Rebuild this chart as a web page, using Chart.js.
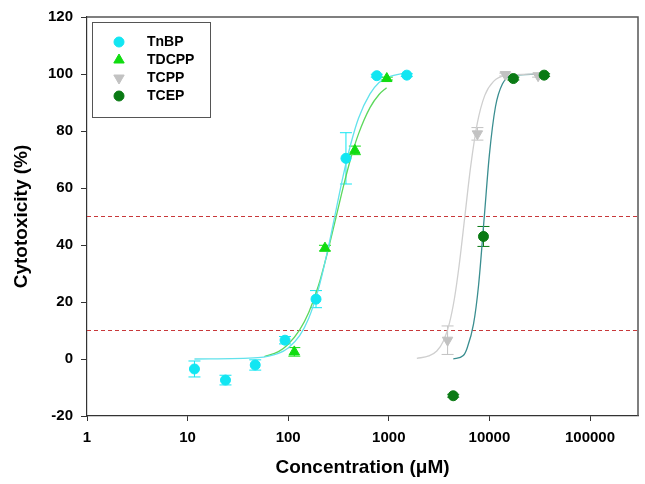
<!DOCTYPE html>
<html>
<head>
<meta charset="utf-8">
<script src="https://cdn.jsdelivr.net/npm/chart.js@4.4.1/dist/chart.umd.min.js"></script>
<style>
  body { margin: 0; background: #fff; }
  #wrap { width: 645px; height: 484px; }
</style>
</head>
<body>
<div id="wrap"><canvas id="myChart" width="645" height="484"></canvas></div>
<script>
// measured points (concentration uM, cytotoxicity %, error)
var tnbpX = [11.7, 23.8, 47, 93, 189, 375, 760, 1510];
var tnbpY = [-3.5, -7.4, -2.1, 6.6, 21, 70.4, 99.4, 99.6];
var tnbpErr = [2.8, 1.7, 1.8, 1.3, 3, 9, 0.5, 0.5];

var tdcppX = [115, 232, 460, 955];
var tdcppY = [2.5, 38.9, 73.2, 98.4];
var tdcppErr = [1.5, 1, 1.5, 0.5];

var tcppX = [3840, 7600, 14400, 30500];
var tcppY = [6.6, 79, 99.8, 99.4];
var tcppErr = [5, 2.2, 0.5, 0.5];

var tcepX = [4370, 8730, 17300, 35000];
var tcepY = [-12.9, 43, 98.4, 99.6];
var tcepErr = [0.5, 3.5, 0.5, 0.5];

// fitted curves
var tnbpFitX = [11.7, 50, 80, 100, 130, 160, 200, 250, 300, 350, 420, 500, 650, 800, 1000, 1510];
var tnbpFitY = [0, 0.5, 2, 3.9, 8.2, 14.3, 24.6, 39, 52.5, 63.9, 75.6, 84.5, 93, 97, 99, 100.5];

var tdcppFitX = [58, 80, 100, 130, 160, 200, 250, 300, 350, 420, 500, 650, 800, 950];
var tdcppFitY = [0.8, 2.6, 5.2, 10.2, 16.3, 25.8, 38.4, 50, 59.9, 70.6, 79, 88.2, 92.8, 95.2];

var tcppFitX = [1900, 2500, 3000, 3500, 4000, 4500, 5000, 5700, 6500, 7600, 9000, 11000, 14400, 30500];
var tcppFitY = [0.2, 1.1, 2.8, 6.4, 12.5, 21.4, 32.8, 50, 67.3, 82.9, 92.5, 97.4, 99.4, 100];

var tcepFitX = [4370, 5500, 6000, 6950, 7800, 8900, 10000, 11500, 13500, 17300, 35000];
var tcepFitY = [0, 1.2, 3.8, 12.2, 25.8, 50, 71.7, 88.6, 96.6, 99.5, 100];

var refLines = [50, 10];
var xTicks = [1, 10, 100, 1000, 10000, 100000];
var xTickLabels = ['1', '10', '100', '1000', '10000', '100000'];
var xMin = 1, xMax = 300000;
var yMin = -20, yMax = 120, yStep = 20;

var legendNames = ['TnBP', 'TDCPP', 'TCPP', 'TCEP'];

function pts(xs, ys) {
  var out = [];
  for (var i = 0; i < xs.length; i++) out.push({x: xs[i], y: ys[i]});
  return out;
}

var markerStyles = [
  {color: '#12E6F2', style: 'circle', radius: 5, rotation: 0},
  {color: '#10DC10', style: 'triangle', radius: 6, rotation: 0},
  {color: '#C2C2C2', style: 'triangle', radius: 6, rotation: 180},
  {color: '#0A7A14', style: 'circle', radius: 5, rotation: 0}
];

function markerSet(name, xs, ys, errs, m, ord) {
  return {
    label: name, data: pts(xs, ys), errors: errs,
    showLine: false, order: ord,
    pointStyle: m.style, pointRotation: m.rotation, pointRadius: m.radius,
    pointBackgroundColor: m.color, pointBorderColor: m.color, pointBorderWidth: 1,
    borderColor: m.color, backgroundColor: m.color
  };
}

function fitSet(xs, ys, color, ord) {
  return {
    label: '_fit', data: pts(xs, ys), order: ord,
    borderColor: color, borderWidth: 1.3, pointRadius: 0,
    cubicInterpolationMode: 'monotone', fill: false
  };
}

var datasets = [
  markerSet('TnBP', tnbpX, tnbpY, tnbpErr, markerStyles[0], 4),
  markerSet('TDCPP', tdcppX, tdcppY, tdcppErr, markerStyles[1], 3),
  markerSet('TCPP', tcppX, tcppY, tcppErr, markerStyles[2], 2),
  markerSet('TCEP', tcepX, tcepY, tcepErr, markerStyles[3], 1),
  fitSet(tnbpFitX, tnbpFitY, '#62E2EC', 10),
  fitSet(tdcppFitX, tdcppFitY, '#5CD85C', 10),
  fitSet(tcppFitX, tcppFitY, '#CFCFCF', 10),
  fitSet(tcepFitX, tcepFitY, '#3A8E90', 10)
];
refLines.forEach(function(v) {
  datasets.push({
    label: '_ref', data: [{x: xMin, y: v}, {x: xMax, y: v}], order: 20,
    borderColor: '#C8383A', borderWidth: 1, borderDash: [4, 3], pointRadius: 0
  });
});

var errorBars = {
  id: 'errorBars',
  beforeDatasetsDraw: function(chart) {
    var ctx = chart.ctx, xs = chart.scales.x, ys = chart.scales.y;
    ctx.save();
    chart.data.datasets.forEach(function(ds) {
      if (!ds.errors) return;
      ctx.strokeStyle = ds.borderColor;
      ctx.lineWidth = 1;
      ds.data.forEach(function(p, i) {
        var e = ds.errors[i];
        var px = xs.getPixelForValue(p.x);
        var top = ys.getPixelForValue(p.y + e);
        var bot = ys.getPixelForValue(p.y - e);
        ctx.beginPath();
        ctx.moveTo(px, top); ctx.lineTo(px, bot);
        ctx.moveTo(px - 6, top); ctx.lineTo(px + 6, top);
        ctx.moveTo(px - 6, bot); ctx.lineTo(px + 6, bot);
        ctx.stroke();
      });
    });
    ctx.restore();
  }
};

var frame = {
  id: 'frame',
  afterDraw: function(chart) {
    var a = chart.chartArea, ctx = chart.ctx;
    ctx.save();
    ctx.strokeStyle = '#555';
    ctx.lineWidth = 1.5;
    ctx.beginPath();
    ctx.moveTo(a.left, a.top); ctx.lineTo(a.right, a.top); ctx.lineTo(a.right, a.bottom);
    ctx.stroke();

    // legend box
    var bx = 92, by = 22, bw = 118, bh = 95;
    ctx.lineWidth = 1;
    ctx.strokeStyle = '#555';
    ctx.fillStyle = '#fff';
    ctx.fillRect(bx, by, bw, bh);
    ctx.strokeRect(bx + 0.5, by + 0.5, bw, bh);
    ctx.font = 'bold 14px "Liberation Sans", Arial, sans-serif';
    ctx.textBaseline = 'middle';
    for (var i = 0; i < legendNames.length; i++) {
      var m = markerStyles[i];
      var ly = 42 + i * 18;
      ctx.fillStyle = m.color;
      ctx.strokeStyle = m.color;
      Chart.helpers.drawPoint(ctx, {pointStyle: m.style, radius: m.radius, rotation: m.rotation, borderWidth: 1}, 119, ly);
      ctx.fillStyle = '#000';
      ctx.fillText(legendNames[i], 147, ly);
    }
    ctx.restore();
  }
};

var tickFont = {family: '"Liberation Sans", Arial, sans-serif', size: 15, weight: 'bold'};
var titleFont = {family: '"Liberation Sans", Arial, sans-serif', size: 19, weight: 'bold'};

var ctx = document.getElementById('myChart').getContext('2d');
var myChart = new Chart(ctx, {
  type: 'line',
  data: {datasets: datasets},
  plugins: [errorBars, frame],
  options: {
    responsive: false,
    animation: false,
    layout: {padding: {top: 16, right: 5, left: 0, bottom: 0}},
    plugins: {legend: {display: false}, tooltip: {enabled: false}},
    scales: {
      x: {
        type: 'logarithmic', min: xMin, max: xMax,
        afterBuildTicks: function(scale) {
          scale.ticks = xTicks.map(function(v) { return {value: v}; });
        },
        afterFit: function(scale) { scale.height = 68; },
        ticks: {
          color: '#000', font: tickFont, padding: 8, maxRotation: 0, autoSkip: false,
          callback: function(v) { var k = xTicks.indexOf(v); return k >= 0 ? xTickLabels[k] : ''; }
        },
        grid: {drawOnChartArea: false, tickLength: 5, color: '#333'},
        border: {color: '#333', width: 1.2},
        title: {display: true, text: 'Concentration (μM)', color: '#000', font: titleFont, padding: {top: 0, bottom: 5}}
      },
      y: {
        min: yMin, max: yMax,
        afterFit: function(scale) { scale.width = 87; },
        ticks: {stepSize: yStep, color: '#000', font: tickFont, padding: 8},
        grid: {drawOnChartArea: false, tickLength: 6, color: '#333'},
        border: {color: '#333', width: 1.2},
        title: {display: true, text: 'Cytotoxicity (%)', color: '#000', font: titleFont, padding: {top: 10, bottom: 0}}
      }
    }
  }
});
</script>
</body>
</html>
